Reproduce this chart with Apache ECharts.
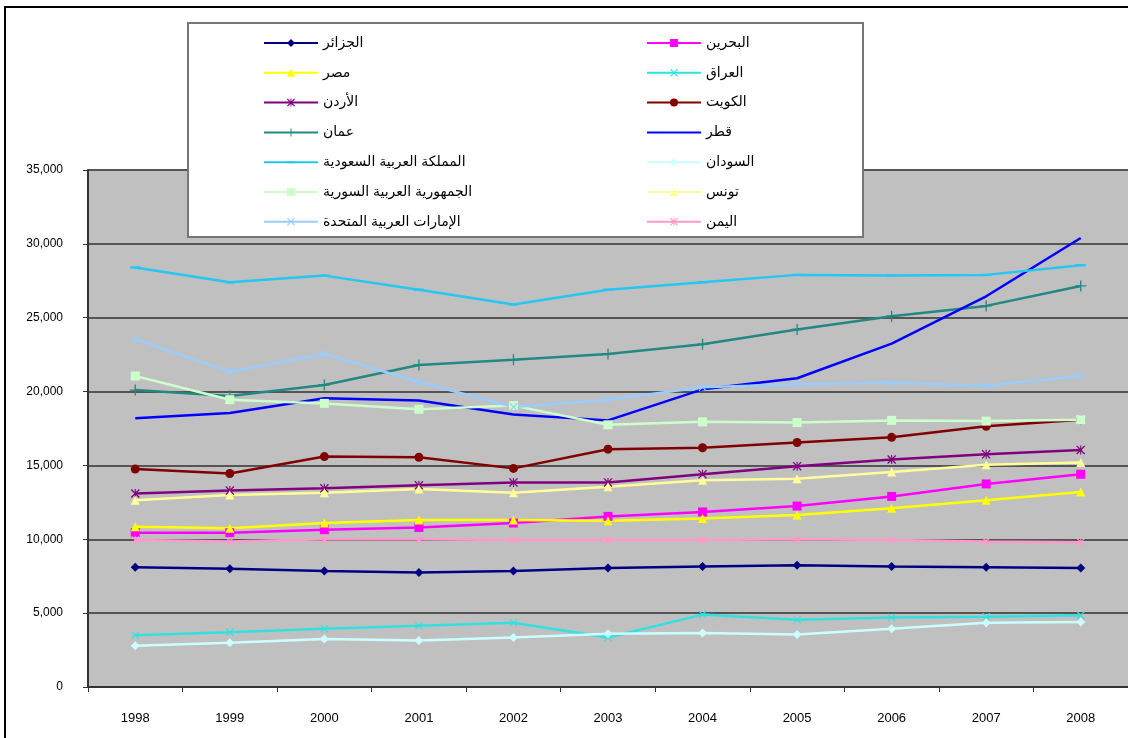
<!DOCTYPE html>
<html>
<head>
<meta charset="utf-8">
<script src="https://cdn.jsdelivr.net/npm/echarts@6/dist/echarts.min.js"></script>
<style>
html,body{margin:0;padding:0;background:#fff;}
#chart{width:1128px;height:738px;}
</style>
</head>
<body>
<div id="chart"></div>
<script>
const years = ['1998','1999','2000','2001','2002','2003','2004','2005','2006','2007','2008'];
const yTicks = [0, 5000, 10000, 15000, 20000, 25000, 30000, 35000];

const algeria = [8100, 8000, 7850, 7750, 7850, 8050, 8150, 8250, 8150, 8100, 8050];
const bahrain = [10450, 10450, 10650, 10800, 11100, 11550, 11850, 12250, 12900, 13750, 14400];
const egypt = [10850, 10750, 11100, 11300, 11300, 11250, 11400, 11650, 12100, 12650, 13200];
const iraq = [3500, 3700, 3950, 4150, 4350, 3350, 4900, 4550, 4700, 4750, 4850];
const jordan = [13100, 13300, 13450, 13650, 13850, 13850, 14400, 14950, 15400, 15750, 16050];
const kuwait = [14750, 14450, 15600, 15550, 14800, 16100, 16200, 16550, 16900, 17650, 18100];
const oman = [20100, 19700, 20450, 21800, 22150, 22550, 23200, 24200, 25100, 25800, 27150];
const qatar = [18200, 18550, 19550, 19400, 18450, 18050, 20150, 20900, 23250, 26450, 30400];
const saudi = [28400, 27400, 27850, 26900, 25900, 26900, 27400, 27900, 27850, 27900, 28550];
const sudan = [2800, 3000, 3250, 3150, 3350, 3600, 3650, 3550, 3950, 4350, 4400];
const syria = [21050, 19450, 19200, 18800, 19050, 17750, 17950, 17900, 18050, 18000, 18100];
const tunisia = [12650, 13000, 13150, 13400, 13150, 13550, 14000, 14100, 14550, 15050, 15200];
const uae = [23550, 21350, 22550, 20650, 18950, 19450, 20300, 20500, 20600, 20400, 21050];
const yemen = [9950, 9850, 10000, 10000, 9950, 9950, 9950, 10000, 9950, 9850, 9800];

const names = {
  algeria: 'الجزائر', bahrain: 'البحرين', egypt: 'مصر', iraq: 'العراق',
  jordan: 'الأردن', kuwait: 'الكويت', oman: 'عمان', qatar: 'قطر',
  saudi: 'المملكة العربية السعودية', sudan: 'السودان', syria: 'الجمهورية العربية السورية',
  tunisia: 'تونس', uae: 'الإمارات العربية المتحدة', yemen: 'اليمن'
};

const X = 'path://M0,1L1,0L5,4L9,0L10,1L6,5L10,9L9,10L5,6L1,10L0,9L4,5Z';
const AST = 'path://M0,1L1,0L5,4L9,0L10,1L6,5L10,9L9,10L5,6L1,10L0,9L4,5Z M4.4,0L5.6,0L5.6,10L4.4,10Z';
const PLUS = 'path://M4.4,0L5.6,0L5.6,4.4L10,4.4L10,5.6L5.6,5.6L5.6,10L4.4,10L4.4,5.6L0,5.6L0,4.4L4.4,4.4Z';
const DASH = 'path://M0,0L0.01,0L0.01,0.01Z M0,3.8L10,3.8L10,6.2L0,6.2Z M9.99,9.99L10,9.99L10,10Z';

function s(name, data, color, symbol, size) {
  return {
    name: name, type: 'line', data: data,
    symbol: symbol, symbolSize: size, showSymbol: symbol !== 'none',
    lineStyle: { color: color, width: 2.5 },
    itemStyle: { color: color },
    emphasis: { disabled: true },
    animation: false, z: 2
  };
}

const series = [
  s(names.algeria, algeria, '#000080', 'diamond', 9),
  s(names.bahrain, bahrain, '#FF00FF', 'rect', 9),
  s(names.egypt, egypt, '#FFFF00', 'triangle', 9),
  s(names.iraq, iraq, '#33E0E0', X, 8),
  s(names.jordan, jordan, '#800080', AST, 9),
  s(names.kuwait, kuwait, '#800000', 'circle', 9),
  s(names.oman, oman, '#238782', PLUS, 11),
  s(names.qatar, qatar, '#0000FF', 'none', 0),
  s(names.saudi, saudi, '#26C6F2', DASH, 10),
  s(names.sudan, sudan, '#CCFFFF', 'diamond', 9),
  s(names.syria, syria, '#CCFFCC', 'rect', 9),
  s(names.tunisia, tunisia, '#FFFF99', 'triangle', 9),
  s(names.uae, uae, '#99CCFF', X, 8),
  s(names.yemen, yemen, '#FF99CC', AST, 8)
];

const legendCommon = {
  orient: 'vertical', top: 31, itemWidth: 54, itemHeight: 10, itemGap: 15.8,
  textStyle: { fontSize: 14, color: '#000', fontFamily: 'Arial, "DejaVu Sans", sans-serif' },
  selectedMode: false, z: 6
};

const chart = echarts.init(document.getElementById('chart'), null, { renderer: 'canvas' });
chart.setOption({
  animation: false,
  backgroundColor: '#fff',
  grid: { left: 88, top: 170, width: 1045, height: 517, show: true, backgroundColor: '#C0C0C0', borderWidth: 0, containLabel: false },
  xAxis: {
    type: 'category', data: years, boundaryGap: true,
    axisLine: { lineStyle: { color: '#333', width: 2 } },
    axisTick: { show: true, length: 5, lineStyle: { color: '#333', width: 1 } },
    axisLabel: { margin: 25, fontSize: 13, color: '#000', fontFamily: '"Liberation Sans Narrow", Arial, sans-serif' },
    splitLine: { show: false }
  },
  yAxis: {
    type: 'value', min: 0, max: 35000, interval: 5000,
    axisLine: { show: true, lineStyle: { color: '#333', width: 2 } },
    axisTick: { show: true, length: 5, lineStyle: { color: '#333', width: 1 } },
    axisLabel: {
      margin: 25, fontSize: 12, color: '#000', fontFamily: 'Arial, sans-serif',
      formatter: function (v) { return yTicks.indexOf(v) >= 0 ? v.toLocaleString('en-US') : ''; }
    },
    splitLine: { show: true, lineStyle: { color: '#555', width: 2 } }
  },
  legend: [
    Object.assign({}, legendCommon, { left: 258, data: [names.algeria, names.egypt, names.jordan, names.oman, names.saudi, names.syria, names.uae] }),
    Object.assign({}, legendCommon, { left: 641, data: [names.bahrain, names.iraq, names.kuwait,
      { name: names.qatar, itemStyle: { color: 'rgba(0,0,0,0)', borderWidth: 0, opacity: 0 } },
      names.sudan, names.tunisia, names.yemen] })
  ],
  graphic: [
    { type: 'rect', z: 100, silent: true, shape: { x: 5, y: 7, width: 1200, height: 800 }, style: { fill: 'none', stroke: '#000', lineWidth: 2 } },
    { type: 'rect', z: 5, silent: true, shape: { x: 188, y: 23, width: 675, height: 214 }, style: { fill: '#fff', stroke: '#777', lineWidth: 2 } }
  ],
  series: series
});
</script>
</body>
</html>
